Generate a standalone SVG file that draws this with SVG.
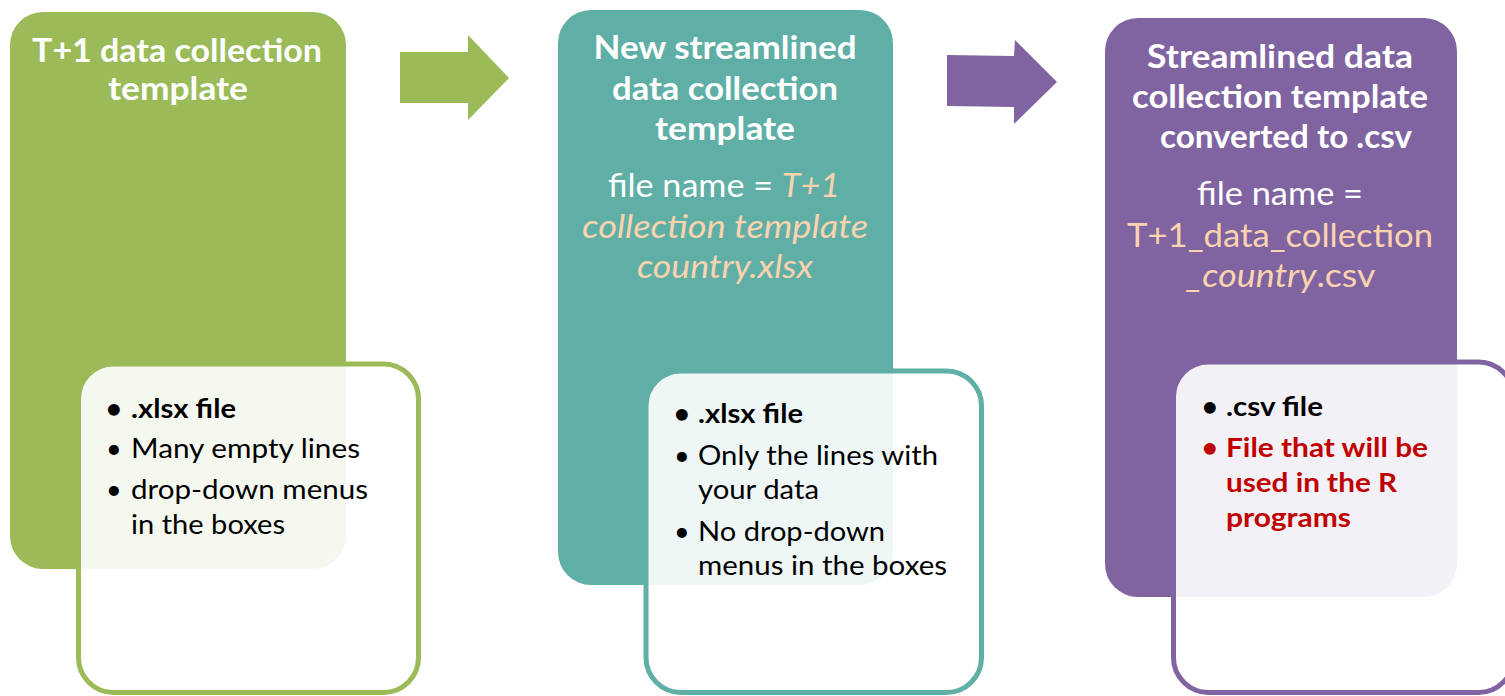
<svg xmlns="http://www.w3.org/2000/svg" width="1505" height="696" viewBox="0 0 1505 696">
<style>
.title{font-family:Lato,"Liberation Sans",sans-serif;font-weight:bold;font-size:33px;fill:#fff;text-anchor:middle}
.fn{font-family:Lato,"Liberation Sans",sans-serif;font-size:33px;fill:#fff;text-anchor:middle}
.pe{fill:#FBD3AE}
.it{font-style:italic}
.b{font-family:Lato,"Liberation Sans",sans-serif;font-size:27px;fill:#000}
.bold{font-weight:bold}
.red{fill:#C00000}
.inner{fill:#fff;fill-opacity:0.9;stroke-width:5}
</style>
<rect width="1505" height="696" fill="#fff"/>
<g id="connectors">
<polygon points="400,52 468,52 468,35 509,78 468,120 468,103 400,103" fill="#9BBB59"/>
<polygon points="947,55 1014,56 1015,40 1057,82 1014,124 1014,107 947,106" fill="#8064A2"/>
</g>
<g id="node-t1">
<rect x="10" y="12" width="336" height="557" rx="33" fill="#9BBB59"/>
<text class="title" x="177" y="62" textLength="290" lengthAdjust="spacingAndGlyphs">T+1 data collection</text>
<text class="title" x="178" y="100" textLength="140" lengthAdjust="spacingAndGlyphs">template</text>
</g>
<g id="node-new">
<rect x="558" y="10" width="335" height="575" rx="33" fill="#60AFA6"/>
<text class="title" x="725" y="59" textLength="263" lengthAdjust="spacingAndGlyphs">New streamlined</text>
<text class="title" x="725" y="100" textLength="226" lengthAdjust="spacingAndGlyphs">data collection</text>
<text class="title" x="725" y="140" textLength="140" lengthAdjust="spacingAndGlyphs">template</text>
<text class="fn" x="724" y="197" textLength="232" lengthAdjust="spacingAndGlyphs">file name = <tspan class="pe it">T+1</tspan></text>
<text class="fn pe it" x="725" y="238" textLength="286" lengthAdjust="spacingAndGlyphs">collection template</text>
<text class="fn pe it" x="725" y="278" textLength="176" lengthAdjust="spacingAndGlyphs">country.xlsx</text>
</g>
<g id="node-csv">
<rect x="1105" y="18" width="352" height="579" rx="33" fill="#8064A2"/>
<text class="title" x="1280" y="68" textLength="266" lengthAdjust="spacingAndGlyphs">Streamlined data</text>
<text class="title" x="1280" y="108" textLength="296" lengthAdjust="spacingAndGlyphs">collection template</text>
<text class="title" x="1286" y="148" textLength="252" lengthAdjust="spacingAndGlyphs">converted to .csv</text>
<text class="fn" x="1280" y="205" textLength="166" lengthAdjust="spacingAndGlyphs">file name =</text>
<text class="fn pe" x="1280" y="247" textLength="306" lengthAdjust="spacingAndGlyphs">T+1_data_collection</text>
<text class="fn pe" x="1281" y="287" textLength="189" lengthAdjust="spacingAndGlyphs"><tspan class="it">_country</tspan>.csv</text>
</g>
<g id="detail-t1">
<rect class="inner" x="78.5" y="364" width="340" height="328.5" rx="35" stroke="#9BBB59"/>
<text class="b bold" x="106" y="418">•</text>
<text class="b bold" x="131" y="418" textLength="105" lengthAdjust="spacingAndGlyphs">.xlsx file</text>
<text class="b" x="106" y="458">•</text>
<text class="b" x="131" y="458" textLength="229" lengthAdjust="spacingAndGlyphs">Many empty lines</text>
<text class="b" x="106" y="499">•</text>
<text class="b" x="131" y="499" textLength="237" lengthAdjust="spacingAndGlyphs">drop-down menus</text>
<text class="b" x="131" y="534" textLength="154" lengthAdjust="spacingAndGlyphs">in the boxes</text>
</g>
<g id="detail-new">
<rect class="inner" x="646" y="371" width="335.5" height="321.5" rx="35" stroke="#60AFA6"/>
<text class="b bold" x="674" y="423">•</text>
<text class="b bold" x="698" y="423" textLength="105" lengthAdjust="spacingAndGlyphs">.xlsx file</text>
<text class="b" x="674" y="465">•</text>
<text class="b" x="698" y="465" textLength="240" lengthAdjust="spacingAndGlyphs">Only the lines with</text>
<text class="b" x="698" y="499" textLength="121" lengthAdjust="spacingAndGlyphs">your data</text>
<text class="b" x="674" y="541">•</text>
<text class="b" x="698" y="541" textLength="187" lengthAdjust="spacingAndGlyphs">No drop-down</text>
<text class="b" x="698" y="575" textLength="249" lengthAdjust="spacingAndGlyphs">menus in the boxes</text>
</g>
<g id="detail-csv">
<rect class="inner" x="1173.5" y="362" width="340" height="330.5" rx="35" stroke="#8064A2"/>
<text class="b bold" x="1202" y="416">•</text>
<text class="b bold" x="1226" y="416" textLength="97" lengthAdjust="spacingAndGlyphs">.csv file</text>
<text class="b bold red" x="1202" y="457">•</text>
<text class="b bold red" x="1226" y="457" textLength="202" lengthAdjust="spacingAndGlyphs">File that will be</text>
<text class="b bold red" x="1226" y="492" textLength="171" lengthAdjust="spacingAndGlyphs">used in the R</text>
<text class="b bold red" x="1226" y="527" textLength="125" lengthAdjust="spacingAndGlyphs">programs</text>
</g>
</svg>
